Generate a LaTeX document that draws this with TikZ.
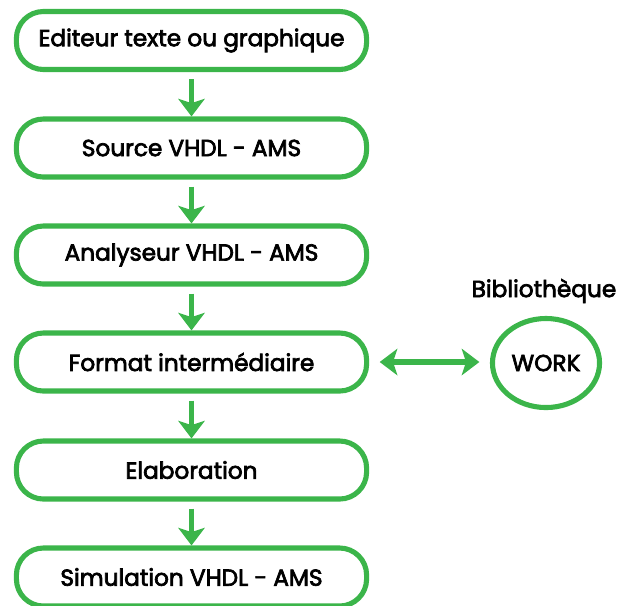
\documentclass[tikz,border=0pt]{standalone}
\usepackage{fontspec}
\newfontfamily\popfont{Poppins}[FakeBold=3]
\usetikzlibrary{arrows.meta,shapes.geometric}
\definecolor{vert}{RGB}{59,181,74}
\tikzset{
  etape/.style={draw=vert,line width=1.45pt,rounded corners=0.27cm,
    minimum width=3.5cm,minimum height=0.58cm,inner sep=0pt,fill=white},
  fleche/.style={vert,line width=1.45pt,-{Stealth[length=5pt,width=7.5pt,inset=1.2pt]}},
  txt/.style={font=\popfont\fontsize{6.6}{7}\selectfont}
}
\begin{document}
\begin{tikzpicture}[x=0.01cm,y=-0.01cm]
      \useasboundingbox (0,0) rectangle (622,605);
      \node [etape,txt] (edit) at (191.5,40.5) {Editeur texte ou graphique};
      \node [etape,txt] (src) at (191.5,148) {Source VHDL - AMS};
      \node [etape,txt] (ana) at (191.5,255) {Analyseur VHDL - AMS};
      \node [etape,txt] (fmt) at (191.5,362) {Format interm\'ediaire};
      \node [etape,txt] (elab) at (191.5,470) {Elaboration};
      \node [etape,txt] (simu) at (191.5,577) {Simulation VHDL - AMS};
      \node [draw=vert,line width=1.45pt,ellipse,minimum width=1.07cm,minimum height=0.89cm,
        inner sep=0pt,txt] (work) at (546,363) {WORK};
      \node [txt] (bib) at (544,291) {Biblioth\`eque};
      \draw [fleche,shorten <=2pt] (edit) -- (src);
      \draw [fleche,shorten <=2pt] (src) -- (ana);
      \draw [fleche,shorten <=2pt] (ana) -- (fmt);
      \draw [fleche,shorten <=2pt] (fmt) -- (elab);
      \draw [fleche,shorten <=2pt] (elab) -- (simu);
      \draw [fleche,{Stealth[length=5pt,width=7.5pt,inset=1.2pt]}-{Stealth[length=5pt,width=7.5pt,inset=1.2pt]},
        shorten <=3pt,shorten >=3pt] (fmt.east) -- (work.west |- fmt.east);
    \end{tikzpicture}
\end{document}
